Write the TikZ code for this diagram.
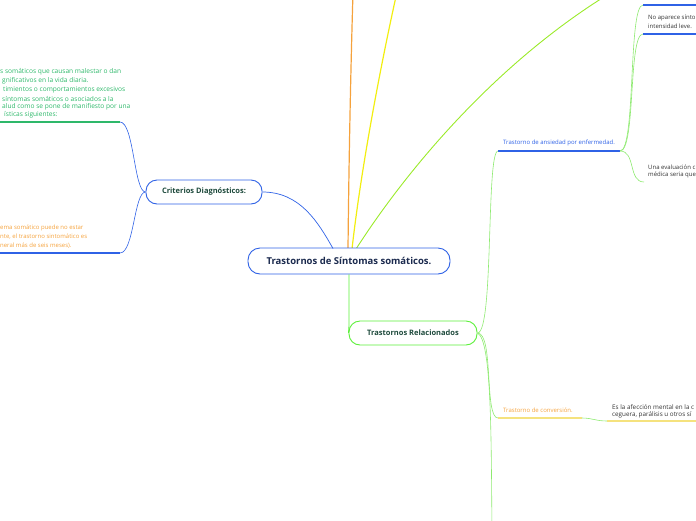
\documentclass[tikz,border=0pt]{standalone}
\usepackage{fontspec}
\setmainfont{Open Sans}
\definecolor{cblue}{HTML}{2F62E6}
\definecolor{cnavy}{HTML}{1B2A4E}
\definecolor{cdkgreen}{HTML}{1E4A3C}
\definecolor{ctxtgreen}{HTML}{2EB86A}
\definecolor{corange}{HTML}{F5A23C}
\definecolor{cyellow}{HTML}{F2EE10}
\definecolor{cyg}{HTML}{9BEA2A}
\definecolor{clgreen}{HTML}{8EEA70}
\definecolor{cnodegreen}{HTML}{5CF03A}
\definecolor{cpaleyel}{HTML}{F5E27E}
\definecolor{cgrey}{HTML}{333333}
\tikzset{
  mainbox/.style={draw=cblue, line width=0.9pt, rounded corners=12pt, fill=white, text=cnavy,
    font=\fontsize{9.5}{11}\selectfont\bfseries, minimum width=202pt, minimum height=26pt, inner sep=0pt},
  subbox/.style={draw=#1, line width=0.9pt, rounded corners=11pt, fill=white,
    font=\fontsize{7.5}{9}\selectfont\bfseries, minimum height=24pt, inner sep=0pt},
  smalltxt/.style={anchor=west, inner sep=0pt, font=\fontsize{6}{7}\selectfont},
  bigtxt/.style={anchor=west, inner sep=0pt, font=\fontsize{6.6}{7.5}\selectfont},
  conn/.style={line width=0.7pt},
  thin/.style={line width=0.6pt},
  uline/.style={line width=1.3pt}
}
\begin{document}
\begin{tikzpicture}[x=1pt,y=-1pt]
\useasboundingbox (0,0) rectangle (696,520);

% connectors from central node (drawn first)
\coordinate (orTop) at (353,-8);
\coordinate (yeTop) at (397,-8);
\coordinate (ygTop) at (612,-8);
\draw[conn, corange, line width=1.2pt] (348,249) .. controls (349,150) and (351,60) .. (orTop);
\draw[conn, cyellow, line width=1.2pt] (352,249) .. controls (362,160) and (384,50) .. (yeTop);
\draw[conn, cyg, line width=0.9pt] (356,249) .. controls (410,165) and (500,60) .. (ygTop);

\node[mainbox] (central) at (349,261) {Trastornos de Síntomas somáticos.};
\node[subbox=cblue, text=cdkgreen, minimum width=116pt] (crit) at (204,192) {Criterios Diagnósticos:};
\node[subbox=cnodegreen, text=cdkgreen, minimum width=128pt] (rel) at (413,333) {Trastornos Relacionados};

\draw[conn, cblue] (crit.east) .. controls (300,192) and (318,222) .. (333,248.5);
\draw[conn, cnodegreen, line width=0.9pt] (central.south -| 349,0) -- (349,326) .. controls (349,330) .. (rel.west);

% Criterios branches
\coordinate (gTL) at (120,122);
\coordinate (bBL) at (120,253);
\draw[thin, cblue] (crit.west) .. controls (134,192) and (134,122) .. (gTL);
\draw[thin, cblue] (crit.west) .. controls (134,192) and (134,253) .. (bBL);
\coordinate (gL0) at (0,122);
\coordinate (bL0) at (0,253);
\draw[uline, ctxtgreen] (gL0) -- (gTL);
\draw[uline, cblue] (bL0) -- (bBL);

\node[bigtxt, text=ctxtgreen] (t1) at (0,72) {s somáticos que causan malestar o dan};
\node[bigtxt, text=ctxtgreen] (t2) at (2,81) {gnificativos en la vida diaria.};
\node[bigtxt, text=ctxtgreen] (t3) at (3,90) {timientos o comportamientos excesivos};
\node[bigtxt, text=ctxtgreen] (t4) at (2,99) {síntomas somáticos o asociados a la};
\node[bigtxt, text=ctxtgreen] (t5) at (2,107) {alud como se pone de manifiesto por una};
\node[bigtxt, text=ctxtgreen] (t6) at (4,115) {ísticas siguientes:};

\node[smalltxt, text=corange] (o1) at (0,228) {ema somático puede no estar};
\node[smalltxt, text=corange] (o2) at (0,237) {nte, el trastorno sintomático es};
\node[smalltxt, text=corange] (o3) at (0,246) {neral más de seis meses).};

% Trastornos relacionados branches
\coordinate (anx) at (498,151);
\coordinate (anxE) at (620,151);
\coordinate (conv) at (498,418);
\coordinate (convE) at (582,418);
\coordinate (bot) at (492,528);
\draw[thin, clgreen] (rel.east) .. controls (494,333) and (486,151) .. (anx);
\draw[thin, clgreen] (rel.east) .. controls (494,333) and (484,418) .. (conv);
\draw[thin, clgreen] (rel.east) .. controls (492,340) and (491,440) .. (bot);
\draw[uline, cblue] (anx) -- (anxE);
\node[smalltxt, text=cblue] (anxT) at (503,143) {Trastorno de ansiedad por enfermedad.};

\coordinate (r1) at (643,5);
\coordinate (r2) at (643,34);
\coordinate (r3) at (644,182);
\draw[thin, clgreen] (anxE) .. controls (636,151) and (628,5) .. (r1);
\draw[thin, clgreen] (anxE) .. controls (636,151) and (628,34) .. (r2);
\draw[thin, clgreen] (anxE) .. controls (636,151) and (628,182) .. (r3);
\draw[uline, cblue] (r1) -- (700,5);
\draw[uline, cblue] (r2) -- (700,34);
\node[smalltxt, text=cgrey] (n1) at (648,18) {No aparece sínto};
\node[smalltxt, text=cgrey] (n2) at (648,26) {intensidad leve.};
\node[smalltxt, text=cgrey] (u1) at (648,167) {Una evaluación c};
\node[smalltxt, text=cgrey] (u2) at (648,175) {médica seria que};

\draw[uline, cpaleyel] (conv) -- (convE);
\node[smalltxt, text=corange] (convT) at (503,410) {Trastorno de conversión.};
\coordinate (convR) at (607,421);
\draw[thin, clgreen] (convE) .. controls (592,418) and (596,421) .. (convR);
\draw[uline, cpaleyel] (convR) -- (700,421);
\node[smalltxt, text=cgrey, font=\fontsize{6.3}{7}\selectfont] (c1) at (612,407) {Es la afección mental en la c};
\node[smalltxt, text=cgrey, font=\fontsize{6.3}{7}\selectfont] (c2) at (612,415) {ceguera, parálisis u otros sí};
\end{tikzpicture}
\end{document}
